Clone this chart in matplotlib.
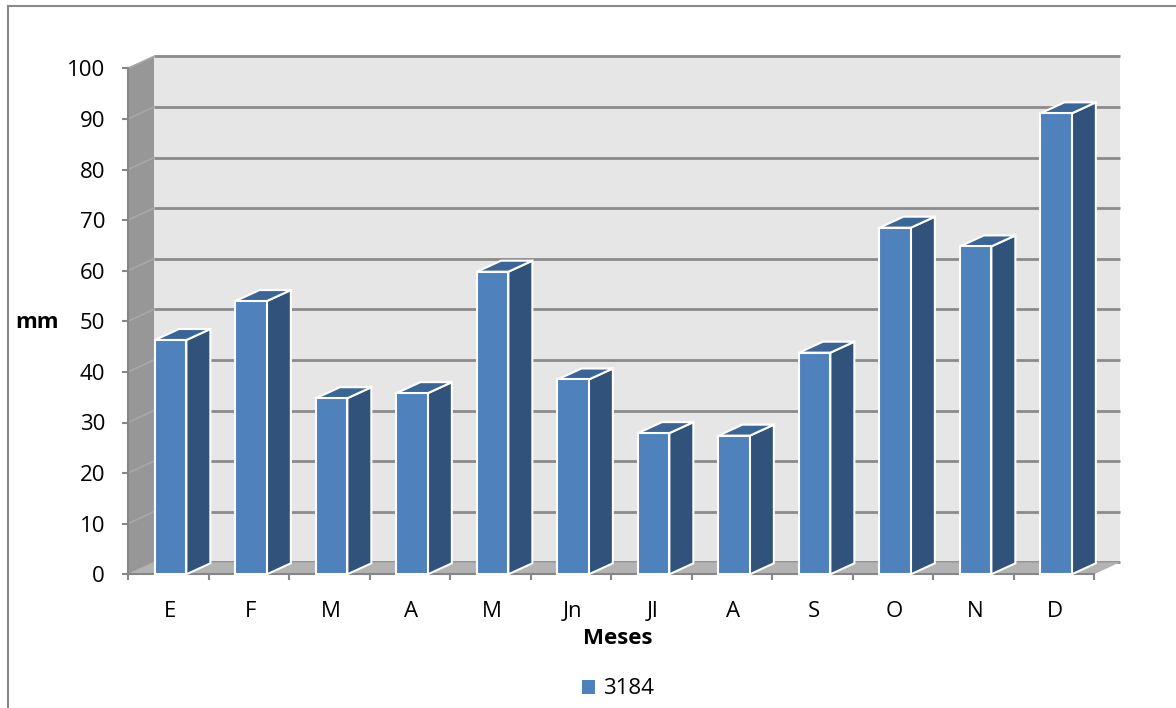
import matplotlib
matplotlib.use("Agg")
import matplotlib.pyplot as plt
from matplotlib.patches import Polygon, Patch
from matplotlib.lines import Line2D

# ---- data ----
months = ["E", "F", "M", "A", "M", "Jn", "Jl", "A", "S", "O", "N", "D"]
values = [46.3, 54.0, 34.8, 35.8, 59.8, 38.5, 27.9, 27.4, 43.8, 68.5, 64.8, 91.1]
series_name = "3184"
y_ticks = list(range(0, 101, 10))
x_title = "Meses"
y_title = "mm"

plt.rcParams['font.family'] = ['Open Sans', 'DejaVu Sans']
FS = 16

W, H, DPI = 1176, 708, 100
fig = plt.figure(figsize=(W / DPI, H / DPI), dpi=DPI)

# ---- layout geometry (pixels) ----
x0px, catpx = 128.0, 80.5
y0px, unitpx = 574.3, 5.06
n = len(months)
xmax = n + 26.5 / catpx
ymin, ymax = -1.2, 103.0
ax = fig.add_axes([x0px / W,
                   (H - (y0px + (-ymin) * unitpx)) / H,
                   xmax * catpx / W,
                   (ymax - ymin) * unitpx / H])
ax.set_xlim(0, xmax)
ax.set_ylim(ymin, ymax)

# depth offsets (data units)
wdx, wdy = 26 / catpx, 12 / unitpx
bdx, bdy = 24 / catpx, 11 / unitpx
top_v = max(y_ticks)

# walls and floor
ax.add_patch(Polygon([(wdx, wdy), (n + wdx, wdy), (n + wdx, top_v + wdy), (wdx, top_v + wdy)],
                     closed=True, fc='#e6e6e6', ec='none', zorder=0.5))
ax.add_patch(Polygon([(0, 0), (wdx, wdy), (wdx, top_v + wdy), (0, top_v)],
                     closed=True, fc='#979797', ec='none', zorder=0.6))
# gridlines
for v in y_ticks:
    ax.plot([wdx, n + wdx], [v + wdy, v + wdy], color='#8a8a8a', lw=2.0,
            solid_capstyle='butt', zorder=0.8)
    ax.plot([0, wdx], [v, v + wdy], color='#a8a8a8', lw=1.2, zorder=0.8)
ax.add_patch(Polygon([(0, 0), (n, 0), (n + wdx, wdy), (wdx, wdy)],
                     closed=True, fc='#b3b3b3', ec='none', zorder=0.9))

# bars
front_c, side_c, top_c = '#4f81bd', '#30527b', '#3a6596'
for i, v in enumerate(values):
    xa, xb = i + 0.335, i + 0.725
    ax.add_patch(Polygon([(xb, 0), (xb + bdx, bdy), (xb + bdx, v + bdy), (xb, v)],
                         closed=True, fc=side_c, ec='white', lw=1.5, zorder=3))
    ax.add_patch(Polygon([(xa, v), (xb, v), (xb + bdx, v + bdy), (xa + bdx, v + bdy)],
                         closed=True, fc=top_c, ec='white', lw=1.5, zorder=3))
    ax.add_patch(Polygon([(xa, 0), (xb, 0), (xb, v), (xa, v)],
                         closed=True, fc=front_c, ec='white', lw=1.5, zorder=3.1))

# axes
for s in ('top', 'right'):
    ax.spines[s].set_visible(False)
ax.spines['left'].set_bounds(0, top_v)
ax.spines['bottom'].set_position(('data', 0))
ax.spines['bottom'].set_bounds(0, n)
for s in ('left', 'bottom'):
    ax.spines[s].set_color('#868686')
    ax.spines[s].set_linewidth(1.5)
    ax.spines[s].set_zorder(1)

ax.set_yticks(y_ticks)
ax.set_yticklabels([str(t) for t in y_ticks])
ax.tick_params(axis='y', direction='out', length=4.5, width=1.5, color='#868686',
               labelsize=FS, pad=12)
ax.set_xticks(range(n + 1))
ax.set_xticklabels([])
ax.set_xticks([i + 0.52 for i in range(n)], minor=True)
ax.set_xticklabels(months, minor=True)
ax.tick_params(axis='x', which='major', direction='out', length=4.5, width=1.5, color='#868686')
ax.tick_params(axis='x', which='minor', length=0, labelsize=FS, pad=19)

ax_w_px = xmax * catpx
ax_b_px = y0px + (-ymin) * unitpx
ax_h_px = (ymax - ymin) * unitpx
ax.set_xlabel(x_title, fontsize=FS, fontweight='bold')
ax.xaxis.set_label_coords((618 - x0px) / ax_w_px, (ax_b_px - 638) / ax_h_px)
ax.xaxis.label.set_va('center')
ax.set_ylabel(y_title, fontsize=FS, fontweight='bold', rotation=0)
ax.yaxis.set_label_coords((37 - x0px) / ax_w_px, (ax_b_px - 322) / ax_h_px)
ax.yaxis.label.set_va('center')
ax.yaxis.label.set_ha('center')

fig.legend(handles=[Patch(fc=front_c, label=series_name)], loc='center',
           bbox_to_anchor=(618 / W, 1 - 689 / H), frameon=False,
           handlelength=0.6, handleheight=0.6, handletextpad=0.35, fontsize=FS)

# outer frame
fig.add_artist(Line2D([8 / W, 8 / W], [0, 1 - 6 / H], transform=fig.transFigure,
                      color='#898989', lw=1.5))
fig.add_artist(Line2D([8 / W, 1], [1 - 6 / H, 1 - 6 / H], transform=fig.transFigure,
                      color='#898989', lw=1.5))

fig.savefig('out.png', dpi=DPI, facecolor='white')
